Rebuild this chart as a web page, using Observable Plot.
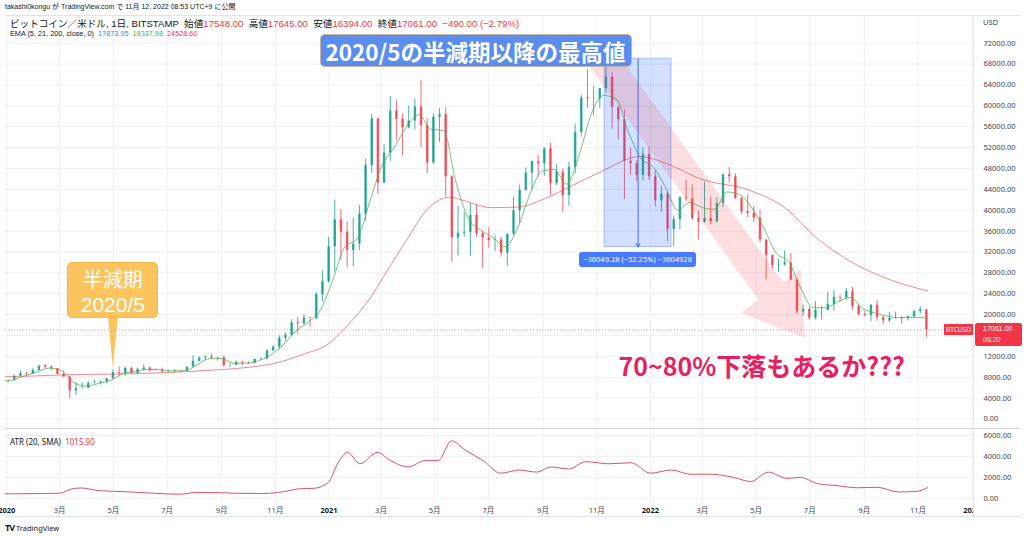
<!DOCTYPE html>
<html><head><meta charset="utf-8">
<script src="https://cdn.jsdelivr.net/npm/d3@7"></script>
<script src="https://cdn.jsdelivr.net/npm/@observablehq/plot@0.6"></script>
<style>
html,body{margin:0;padding:0;background:#fff;}
#wrap{position:relative;width:1024px;height:537px;overflow:hidden;font-family:"Noto Sans CJK JP","Noto Sans",sans-serif;color:#131722;}
.abs{position:absolute;white-space:nowrap;}
.r{color:#f23645;}
</style></head><body><div id="wrap"></div>
<script>
// ---------------- DATA ----------------
// weekly candles (week starting Monday 2019-12-23), BTC/USD Bitstamp
const firstOpen = 7500;
const closeP = [7390,7350,8180,8700,8600,9330,10150,9900,9660,8540,
8030,5360,5830,5880,6780,6900,7120,7700,8900,8730,
9700,8720,9450,9750,9330,9300,9000,9070,9230,9160,
9930,11050,11680,11900,11650,11700,10250,10300,10900,10750,
10680,11400,11500,13050,13750,15480,16050,18400,18200,19350,
19250,23850,26300,33000,38150,35800,32300,33500,39250,48600,
57500,45200,50950,59000,57400,55800,57100,59800,56200,49050,
57800,58300,46400,34700,35600,35800,39000,35500,34700,34200,
34300,31800,35400,39900,43800,47100,49300,48900,51750,45100,
47300,42800,48200,54900,61500,61300,61300,63300,65500,59700,
57300,49400,48900,46700,50700,46400,41800,43100,36300,38200,
42400,42200,38400,37700,38400,37800,41300,46800,46400,42200,
39700,39400,38500,34300,31300,29400,29500,29900,26600,20500,
21000,19300,20800,20800,21900,23300,23200,24400,21500,20000,
19800,21800,19400,18800,19300,19400,19200,19600,20600,20900,
17061];
const highP = [7700,7500,8450,9200,8900,9600,10150,10500,10250,9700,
9200,8100,6900,6950,7200,7450,7250,7750,9450,10050,
9950,9850,9750,10400,9990,9600,9750,9350,9450,9300,
9950,12100,11900,12100,12450,11800,12050,10600,11100,10990,
10950,11500,11750,13250,14100,15950,16500,19000,19450,19900,
19450,24200,28400,34800,41950,40100,37800,38500,40900,49700,
58350,57600,52600,61800,61000,58400,60000,61300,64800,57500,
58400,59500,59600,46600,40800,39500,41300,41000,36000,36600,
35100,34800,35400,42500,44800,48150,49400,50500,52000,52900,
48800,47900,49200,56500,62000,67000,63700,63200,69000,66300,
59800,59200,51900,49500,52000,52100,47600,44500,43500,38900,
42600,45800,44800,39800,45400,42500,42400,46900,48200,47000,
42500,42900,40800,40000,34300,31400,30600,32200,31700,26800,
21800,21500,22500,21600,24300,24600,23600,25000,25200,21900,
20600,21900,22700,19700,20400,20500,19600,19700,20900,21500,
21000];
const lowP = [7150,6850,7300,8100,8250,8550,9150,9700,9300,8450,
8000,3850,4500,5700,5850,6750,6500,6800,7650,8200,
8200,8700,8650,9250,8950,9200,8850,8950,9050,9000,
9130,9900,10950,11150,11400,11100,9900,9900,10250,10150,
10400,10550,11250,11400,12900,13250,14850,15800,16200,18000,
17600,19000,22400,26000,28200,30400,29000,29200,32300,37900,
47100,43000,45100,49300,53300,50400,55600,55400,52000,47000,
48800,53000,42600,30000,31200,34800,31100,34800,28800,32700,
32100,31000,29300,35200,37500,43700,43900,46300,46500,42800,
44700,39600,40800,46900,54000,59500,58000,59500,62300,55600,
53500,42000,46700,45500,45600,45700,40600,39600,34000,33000,
36300,41700,38000,34300,37500,37200,37600,40500,45200,42100,
39200,38600,37700,33700,26700,28700,28000,29300,26600,20100,
19700,18900,19000,18900,20700,20700,22400,22700,20800,19700,
19600,18600,18700,18100,18500,19100,18200,18800,19200,20100,
15600];

// EMA 21 (green)
const ema21Dates = ["2019-12-30","2020-01-07","2020-01-21","2020-02-04","2020-02-18","2020-03-03","2020-03-17","2020-03-31","2020-04-14","2020-04-28","2020-05-12","2020-05-26","2020-06-09","2020-06-23","2020-07-07","2020-07-21","2020-08-04","2020-08-18","2020-09-01","2020-09-15","2020-09-29","2020-10-13","2020-10-27","2020-11-10","2020-11-24","2020-12-08","2020-12-22","2021-01-05","2021-01-19","2021-02-02","2021-02-16","2021-03-02","2021-03-16","2021-03-30","2021-04-13","2021-04-27","2021-05-11","2021-05-25","2021-06-08","2021-06-22","2021-07-06","2021-07-20","2021-08-03","2021-08-17","2021-08-31","2021-09-14","2021-09-28","2021-10-12","2021-10-26","2021-11-09","2021-11-23","2021-12-07","2021-12-21","2022-01-04","2022-01-18","2022-02-01","2022-02-15","2022-03-01","2022-03-15","2022-03-29","2022-04-12","2022-04-26","2022-05-10","2022-05-24","2022-06-07","2022-06-21","2022-07-05","2022-07-19","2022-08-02","2022-08-16","2022-08-30","2022-09-13","2022-09-27","2022-10-11","2022-10-25","2022-11-12"];
const ema21Vals = [7300,
7450,8250,9000,9750,9300,7000,6300,6800,7400,8700,9150,9500,9450,9200,9250,10400,11550,11600,10650,10700,11150,12300,14200,16800,18500,20800,
26500,33000,34500,41500,48500,52000,56000,58300,55500,55300,45500,38500,36200,34800,33000,36500,43000,47500,47800,45000,50500,58500,62000,61300,55000,50000,
48300,44500,40000,41500,40500,40200,43500,43000,40500,36500,31800,30200,25000,21300,21300,22500,23300,21200,20300,19700,19400,19500,19338];

// EMA 200 (red)
const ema200Dates = ["2019-12-30","2020-02-01","2020-03-15","2020-05-01","2020-07-01","2020-08-15","2020-10-01","2020-11-01","2020-12-01","2021-01-01","2021-01-25","2021-02-16","2021-03-08","2021-03-29","2021-04-25","2021-05-18","2021-06-02","2021-07-04","2021-08-03","2021-08-31","2021-10-05","2021-11-05","2021-12-20","2022-01-24","2022-02-27","2022-04-24","2022-06-04","2022-07-08","2022-08-14","2022-09-22","2022-11-12"];
const ema200Vals = [8100,8250,8500,8600,8900,9300,9900,10700,12300,14500,18500,23000,28400,34000,40600,42500,41900,40500,40600,42000,44800,47300,50300,48600,46000,43800,40300,34800,30400,27200,24530];

// ATR (20, SMA)
const atrDates = ["2019-12-30","2020-02-01","2020-03-01","2020-03-15","2020-03-25","2020-04-15","2020-05-15","2020-06-15","2020-07-15","2020-08-05","2020-09-01","2020-09-20","2020-10-20","2020-11-10","2020-11-28","2020-12-15","2020-12-31","2021-01-12","2021-01-22","2021-02-05","2021-02-25","2021-03-10","2021-04-01","2021-04-20","2021-05-05","2021-05-20","2021-06-05","2021-06-25","2021-07-15","2021-08-05","2021-08-25","2021-09-10","2021-09-30","2021-10-20","2021-11-15","2021-12-10","2022-01-01","2022-01-25","2022-02-15","2022-03-10","2022-04-05","2022-04-25","2022-05-15","2022-06-05","2022-06-20","2022-07-10","2022-08-01","2022-08-25","2022-09-15","2022-10-10","2022-10-30","2022-11-12"];
const atrVals = [420,440,480,900,980,720,620,480,380,560,520,470,450,620,900,950,1500,3500,4400,3300,4400,3700,3000,3600,3600,5500,4600,3600,2400,2700,2500,3000,2800,3500,3300,3400,2400,2700,2300,2300,2000,1600,2500,1900,2000,1400,1200,1000,1050,600,650,1016];

// axes
const monthTicks = ["2020-01-01","2020-03-01","2020-05-01","2020-07-01","2020-09-01","2020-11-01","2021-01-01","2021-03-01","2021-05-01","2021-07-01","2021-09-01","2021-11-01","2022-01-01","2022-03-01","2022-05-01","2022-07-01","2022-09-01","2022-11-01","2023-01-01"];
const priceTicks = [0,4000,8000,12000,16000,20000,24000,28000,32000,36000,40000,44000,48000,52000,56000,60000,64000,68000,72000];
// 16000 label is hidden behind the last-price label
const priceTickLabels = [0,4000,8000,12000,20000,24000,28000,32000,36000,40000,44000,48000,52000,56000,60000,64000,68000,72000];
const atrTicks = [0,2000,4000,6000];
const lastClose = 17061;

// annotations (data coordinates)
const halvingPoint = {date:"2020-05-01", price:9700, labelPrice:24600};
const measureBox = {x1:"2021-11-10", x2:"2022-01-25", top:69000, bottom:32951, arrowDate:"2021-12-18"};
const dropArrow = {fromDate:"2021-11-08", fromPrice:69000, toDate:"2022-06-26", toPrice:15400};
const titleAnchor = {date:"2021-06-17", price:70500};
const questionAnchor = {date:"2022-05-08", price:10250};

// ---------------- BUILD ----------------
const wrap = document.getElementById("wrap");
const P = d => new Date(d + "T00:00:00Z");
const xDomain = [new Date(Date.UTC(2019,11,30,12)), new Date(Date.UTC(2023,0,3))];
const weeks = d3.utcMonday.range(P("2019-12-23"), P("2022-11-08"));
const candles = closeP.map((c,i)=>({
  mid: d3.utcHour.offset(weeks[i], 84),
  open: i ? closeP[i-1] : firstOpen, high: highP[i], low: lowP[i], close: c
}));
const col = d => d.close >= d.open ? "#089981" : "#f23645";
const ema21 = ema21Dates.map((d,i)=>({date:P(d), v:ema21Vals[i]}));
const ema200 = ema200Dates.map((d,i)=>({date:P(d), v:ema200Vals[i]}));
const atr = atrDates.map((d,i)=>({date:P(d), v:atrVals[i]}));
const mTicks = monthTicks.map(P);
const grid = "#eef0f5";
const axisStyle = {fontFamily:"'Noto Sans','Noto Sans CJK JP',sans-serif", fontSize:"7.5px", color:"#434651", background:"transparent", overflow:"visible"};

const main = Plot.plot({
  width:1024, height:413, marginLeft:5, marginRight:51, marginTop:0, marginBottom:0,
  style: axisStyle,
  x:{type:"utc", domain:xDomain, axis:null},
  y:{domain:[-1820,77308], axis:null},
  marks:[
    Plot.ruleY(priceTicks, {stroke:grid}),
    Plot.ruleX(mTicks, {stroke:grid}),
    Plot.ruleY([lastClose], {stroke:"#f23645", strokeOpacity:0.55, strokeDasharray:"1,2"}),
    Plot.ruleX(candles, {x:"mid", y1:"low", y2:"high", stroke:col, strokeOpacity:0.75, strokeWidth:1, clip:true}),
    Plot.ruleX(candles, {x:"mid", y1:"open", y2:"close", stroke:col, strokeOpacity:0.75, strokeWidth:2.5, clip:true}),
    Plot.line(ema200, {x:"date", y:"v", stroke:"#f23645", strokeOpacity:0.6, strokeWidth:1, curve:"monotone-x"}),
    Plot.line(ema21, {x:"date", y:"v", stroke:"#4caf50", strokeOpacity:0.75, strokeWidth:1, curve:"monotone-x"}),
    Plot.rect([measureBox], {x1:d=>P(d.x1), x2:d=>P(d.x2), y1:"bottom", y2:"top", fill:"#2962ff", fillOpacity:0.2, stroke:"#2962ff", strokeOpacity:0.35}),
    Plot.arrow([measureBox], {x1:d=>P(d.arrowDate), x2:d=>P(d.arrowDate), y1:"top", y2:"bottom", stroke:"#2962ff", strokeWidth:1, headLength:6, strokeOpacity:0.9}),
    Plot.axisY(priceTickLabels, {anchor:"right", tickSize:0, tickPadding:10, label:null, tickFormat:d=>d.toFixed(2)})
  ]
});
main.style.position="absolute"; main.style.left="0px"; main.style.top="15px";
wrap.appendChild(main);

const atrPlot = Plot.plot({
  width:1024, height:88, marginLeft:5, marginRight:51, marginTop:0, marginBottom:14,
  style: axisStyle,
  x:{type:"utc", domain:xDomain, axis:null},
  y:{domain:[-508,6587], axis:null},
  marks:[
    Plot.ruleY(atrTicks, {stroke:grid}),
    Plot.ruleX(mTicks, {stroke:grid, y1:-508, y2:6587}),
    Plot.line(atr, {x:"date", y:"v", stroke:"#e0515f", strokeWidth:1, curve:"monotone-x"}),
    Plot.axisY(atrTicks, {anchor:"right", tickSize:0, tickPadding:10, label:null, tickFormat:d=>d.toFixed(2)}),
    Plot.axisX(mTicks, {tickSize:0, tickPadding:4, label:null, tickFormat:d=> d.getUTCMonth()===0 ? String(d.getUTCFullYear()) : (d.getUTCMonth()+1)+"月"})
  ]
});
atrPlot.style.position="absolute"; atrPlot.style.left="0px"; atrPlot.style.top="429px";
wrap.appendChild(atrPlot);
d3.select(atrPlot).selectAll("text").filter(function(){return /^\d{4}$/.test(this.textContent);})
  .attr("font-weight","bold").attr("fill","#131722");

// scales
const sx = main.scale("x"), sy = main.scale("y");
const fx = sx.apply ? sx.apply : d3.scaleUtc(sx.domain, sx.range);
const fy = sy.apply ? sy.apply : d3.scaleLinear(sy.domain, sy.range);
const TOP = 15;

// pink drop arrow
{
  const s=[fx(P(dropArrow.fromDate)), fy(dropArrow.fromPrice)];
  const t=[fx(P(dropArrow.toDate)), fy(dropArrow.toPrice)];
  const dx=t[0]-s[0], dy=t[1]-s[1], L=Math.hypot(dx,dy);
  const u=[dx/L,dy/L], n=[-u[1],u[0]];
  const hl=58, hh=37, sh=15;
  const b=[t[0]-u[0]*hl, t[1]-u[1]*hl];
  const pt=(p,k)=>[p[0]+n[0]*k, p[1]+n[1]*k];
  const pts=[pt(s,sh),pt(b,sh),pt(b,hh),t,pt(b,-hh),pt(b,-sh),pt(s,-sh)];
  d3.select(main).append("path").attr("d","M"+pts.map(p=>p.join(",")).join("L")+"Z")
    .attr("fill","#f23645").attr("fill-opacity",0.16);
}

function add(html, style){const d=document.createElement("div"); d.className="abs"; d.innerHTML=html; Object.assign(d.style, style); wrap.appendChild(d); return d;}
const LAT = "'Liberation Sans','Noto Sans CJK JP',sans-serif";

// frame lines
add("",{left:"5px",top:"15px",width:"1015px",height:"1px",background:"#e0e3eb"});
add("",{left:"5px",top:"428px",width:"1015px",height:"1px",background:"#d1d4dc"});
add("",{left:"5px",top:"516px",width:"1015px",height:"1px",background:"#e0e3eb"});
add("",{left:"973px",top:"15px",width:"1px",height:"502px",background:"#e0e3eb"});
add("",{left:"974px",top:"503px",width:"46px",height:"12px",background:"#fff"});

// header texts
add("takashi0kongu が TradingView.com で 11月 12, 2022 08:53 UTC+9 に公開",{left:"5px",top:"2.5px",height:"8px",lineHeight:"8px",fontSize:"7px",color:"#131722",fontFamily:LAT});
add("ビットコイン／米ドル, 1日, BITSTAMP&nbsp;&nbsp;始値<span class=r>17548.00</span>&nbsp;&nbsp;高値<span class=r>17645.00</span>&nbsp;&nbsp;安値<span class=r>16394.00</span>&nbsp;&nbsp;終値<span class=r>17061.00</span>&nbsp;&nbsp;<span class=r>−490.00 (−2.79%)</span>",{left:"10px",top:"19px",height:"9px",lineHeight:"9px",fontSize:"9.6px",color:"#131722",fontFamily:LAT});
add("EMA (5, 21, 200, close, 0)&nbsp;&nbsp;<span style='color:#2196f3'>17873.95</span>&nbsp;&nbsp;<span style='color:#4caf50'>19337.98</span>&nbsp;&nbsp;<span class=r>24528.60</span>",{left:"10px",top:"29.5px",height:"8px",lineHeight:"8px",fontSize:"7.3px",color:"#131722",fontFamily:LAT});
add("USD",{left:"983px",top:"17px",fontSize:"7.5px",color:"#434651",fontFamily:"'Noto Sans',sans-serif"});
add("ATR (20, SMA)&nbsp;&nbsp;<span class=r>1015.90</span>",{left:"10px",top:"436px",fontSize:"8px",color:"#131722",fontFamily:"'Noto Sans',sans-serif"});
add("<b style='font-size:9px;letter-spacing:-1px'>TV</b>&nbsp;TradingView",{left:"5px",top:"521px",fontSize:"7.5px",color:"#131722",fontFamily:"'Noto Sans',sans-serif"});

// price labels on right
{
  const yy = fy(lastClose)+TOP;
  add("BTCUSD",{left:"944px",top:(yy-5.5)+"px",width:"29px",height:"11px",lineHeight:"11px",background:"#f23645",color:"#fff",fontSize:"6.5px",textAlign:"center",fontFamily:"'Noto Sans',sans-serif"});
  add("",{left:"975px",top:(yy-6)+"px",width:"47px",height:"23px",background:"#f23645",borderRadius:"2px"});
  add("17061.00",{left:"983px",top:(yy-4)+"px",height:"7px",lineHeight:"7px",color:"#fff",fontSize:"7px",fontFamily:"'Liberation Sans',sans-serif"});
  add("06:20",{left:"983px",top:(yy+6.5)+"px",height:"7px",lineHeight:"7px",color:"#fff",fontSize:"7px",fontFamily:"'Liberation Sans',sans-serif"});
}

// measure label
{
  const cx = fx(P(measureBox.arrowDate)), yb = fy(measureBox.bottom)+TOP;
  add("−36049.28 (−52.25%) −3604928",{left:(cx-58.5)+"px",top:(yb+5)+"px",width:"117px",height:"15px",lineHeight:"15px",background:"#2962ff",opacity:"0.85",color:"#fff",fontSize:"7.5px",textAlign:"center",borderRadius:"3px",fontFamily:"'Noto Sans',sans-serif"});
}

// title label
{
  const cx = fx(P(titleAnchor.date)), cy = fy(titleAnchor.price)+TOP;
  add("2020/5の半減期以降の最高値",{left:(cx-156)+"px",top:(cy-16.5)+"px",width:"312px",height:"33px",lineHeight:"32px",background:"#5b8def",border:"1px solid rgba(225,190,140,0.8)",boxSizing:"border-box",borderRadius:"5px",color:"#fff",fontSize:"22.5px",fontWeight:"bold",textAlign:"center"});
}

// halving label with pointer
{
  const cx = fx(P(halvingPoint.date)), tip = fy(halvingPoint.price)+TOP, cy = fy(halvingPoint.labelPrice)+TOP;
  const boxBottom = cy+28;
  const tri = document.createElementNS("http://www.w3.org/2000/svg","svg");
  tri.setAttribute("width","1024"); tri.setAttribute("height","537");
  tri.style.position="absolute"; tri.style.left="0"; tri.style.top="0";
  d3.select(tri).append("path").attr("d",`M${cx-5},${boxBottom-2}L${cx+5},${boxBottom-2}L${cx},${tip}Z`).attr("fill","#fbc45c");
  wrap.appendChild(tri);
  add("",{left:(cx-45.5)+"px",top:(cy-28)+"px",width:"91px",height:"56px",background:"#fbc45c",border:"1px solid #f5b545",boxSizing:"border-box",borderRadius:"5px"});
  add("半減期",{left:(cx-45.5)+"px",top:(cy-21)+"px",width:"91px",height:"20px",lineHeight:"20px",textAlign:"center",color:"#fff",fontSize:"20px"});
  add("2020/5",{left:(cx-45.5)+"px",top:(cy+4)+"px",width:"91px",height:"21px",lineHeight:"21px",textAlign:"center",color:"#fff",fontSize:"21px",fontFamily:"'Liberation Sans',sans-serif"});
}

// question text
{
  const cx = fx(P(questionAnchor.date)), cy = fy(questionAnchor.price)+TOP;
  add("70~80%下落もあるか???",{left:cx+"px",top:cy+"px",transform:"translate(-50%,-50%)",color:"#e91e63",fontSize:"25px",fontWeight:"bold"});
}
</script></body></html>
